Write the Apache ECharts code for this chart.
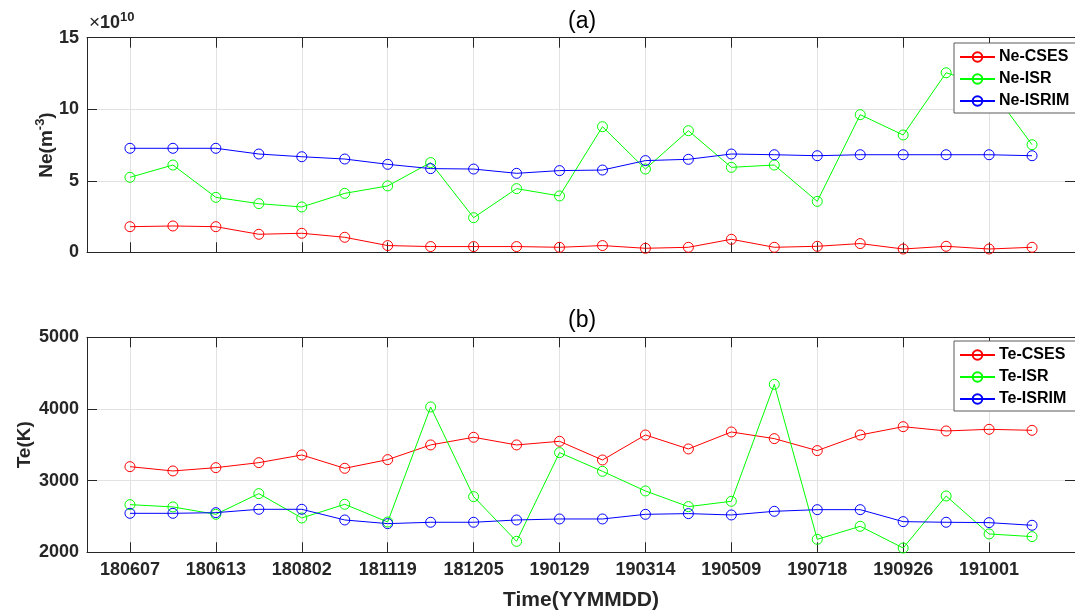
<!DOCTYPE html>
<html><head><meta charset="utf-8">
<script src="https://cdn.jsdelivr.net/npm/echarts@6/dist/echarts.min.js"></script>
<style>html,body{margin:0;padding:0;background:#fff}#c{width:1075px;height:613px}</style>
</head><body><div id="c"></div><script>
// tick labels (every second observation is labelled)
const tickLabels = ['180607','','180613','','180802','','181119','','181205','','190129','','190314','','190509','','190718','','190926','','191001',''];
// Ne in units of 1e10 m^-3
const neCSES  = [1.79,1.84,1.79,1.26,1.33,1.05,0.47,0.40,0.40,0.40,0.35,0.47,0.28,0.35,0.91,0.35,0.42,0.61,0.23,0.42,0.23,0.35];
const neISR   = [5.24,6.10,3.84,3.40,3.17,4.12,4.64,6.27,2.42,4.45,3.94,8.78,5.82,8.50,5.94,6.10,3.56,9.62,8.20,12.55,11.6,7.52];
const neISRIM = [7.27,7.27,7.27,6.87,6.68,6.52,6.15,5.85,5.82,5.52,5.71,5.75,6.41,6.50,6.87,6.82,6.75,6.82,6.82,6.82,6.82,6.75];
// Te in K
const teCSES  = [3195,3135,3181,3251,3358,3172,3293,3498,3605,3498,3549,3288,3637,3442,3679,3586,3419,3637,3753,3693,3716,3702];
const teISR   = [2665,2633,2530,2819,2479,2670,2423,4028,2777,2153,3391,3130,2856,2637,2712,4344,2181,2363,2060,2786,2256,2219];
const teISRIM = [2544,2544,2553,2600,2600,2451,2400,2419,2419,2451,2465,2465,2530,2540,2521,2572,2595,2595,2428,2419,2414,2377];

const FONT = "'Liberation Sans', Arial, Helvetica, sans-serif";
const DARK = '#262626';
const GRIDC = '#e2e2e2';
const RED = '#ff0000', GREEN = '#00ff00', BLUE = '#0000ff';

// padded categories: one empty slot on each side of the data
const cats = [''].concat(tickLabels, ['']);
const isTick = (idx) => idx >= 1 && idx <= tickLabels.length && (idx - 1) % 2 === 0 && tickLabels[idx - 1] !== '';

const gridW = 994, gridL = 87;
const grids = [
  {left: gridL, top: 37.7, width: gridW, height: 214.6},
  {left: gridL, top: 337.3, width: gridW, height: 215}
];

function xAx(gi, pos, showLabel, name) {
  return {
    type: 'category', gridIndex: gi, position: pos, data: cats, boundaryGap: false,
    axisLine: {show: true, onZero: false, lineStyle: {color: DARK, width: 1}},
    axisTick: {show: true, inside: true, length: 10, interval: (i) => isTick(i), lineStyle: {color: DARK}},
    axisLabel: {show: showLabel, interval: (i) => isTick(i), margin: 9, fontFamily: FONT, fontSize: 18, fontWeight: 'bold', color: DARK},
    splitLine: {show: pos === 'bottom', interval: (i) => isTick(i), lineStyle: {color: GRIDC, width: 1}},
    name: name || '', nameLocation: 'middle', nameGap: 37, nameMoveOverlap: false,
    nameTextStyle: {fontFamily: FONT, fontSize: 21, fontWeight: 'bold', color: DARK}
  };
}
function yAx(gi, pos, min, max, interval, name, nameGap, showLabel) {
  return {
    type: 'value', gridIndex: gi, position: pos, min: min, max: max, interval: interval,
    axisLine: {show: true, lineStyle: {color: DARK, width: 1}},
    axisTick: {show: true, inside: true, length: 10, lineStyle: {color: DARK}},
    axisLabel: {show: showLabel, margin: 8, fontFamily: FONT, fontSize: 18, fontWeight: 'bold', color: DARK,
      formatter: (v) => String(v)},
    splitLine: {show: pos === 'left', lineStyle: {color: GRIDC, width: 1}},
    name: name || '', nameLocation: 'middle', nameGap: nameGap, nameRotate: 90, nameMoveOverlap: false,
    nameTextStyle: {
      fontFamily: FONT, fontSize: 19, fontWeight: 'bold', color: DARK,
      rich: {
        a: {fontFamily: FONT, fontSize: 19, fontWeight: 'bold', color: DARK, verticalAlign: 'bottom'},
        s: {fontFamily: FONT, fontSize: 13, fontWeight: 'bold', color: DARK, verticalAlign: 'bottom', padding: [0, 0, 9, 0]}
      }
    }
  };
}
function ser(name, vals, color, xi, yi) {
  return {
    type: 'line', name: name, xAxisIndex: xi, yAxisIndex: yi,
    data: vals.map((v, i) => [i + 1, v]),
    symbol: 'circle', symbolSize: 10,
    lineStyle: {color: color, width: 1},
    itemStyle: {color: 'rgba(255,255,255,0)', borderColor: color, borderWidth: 1},
    emphasis: {disabled: true}, silent: true
  };
}
function leg(names, top) {
  return {
    data: names, orient: 'vertical', left: 954, top: top,
    itemWidth: 35, itemHeight: 12, itemGap: 6,
    padding: [6, 10, 4, 5],
    backgroundColor: '#fff', borderColor: '#5a5a5a', borderWidth: 1, borderRadius: 0,
    textStyle: {fontFamily: FONT, fontSize: 16, fontWeight: 'bold', color: '#000', padding: [0, 0, 0, -1]},
    selectedMode: false
  };
}

const chart = echarts.init(document.getElementById('c'), null, {renderer: 'canvas'});
chart.setOption({
  animation: false,
  backgroundColor: '#fff',
  grid: grids,
  xAxis: [xAx(0, 'bottom', false), xAx(0, 'top', false), xAx(1, 'bottom', true, 'Time(YYMMDD)'), xAx(1, 'top', false)],
  yAxis: [
    yAx(0, 'left', 0, 15, 5, '{a|Ne(m}{s|-3}{a|)}', 31, true),
    yAx(0, 'right', 0, 15, 5, '', 0, false),
    yAx(1, 'left', 2000, 5000, 1000, 'Te(K)', 53, true),
    yAx(1, 'right', 2000, 5000, 1000, '', 0, false)
  ],
  legend: [leg(['Ne-CSES', 'Ne-ISR', 'Ne-ISRIM'], 43), leg(['Te-CSES', 'Te-ISR', 'Te-ISRIM'], 341)],
  series: [
    ser('Ne-CSES', neCSES, RED, 0, 0),
    ser('Ne-ISR', neISR, GREEN, 0, 0),
    ser('Ne-ISRIM', neISRIM, BLUE, 0, 0),
    ser('Te-CSES', teCSES, RED, 2, 2),
    ser('Te-ISR', teISR, GREEN, 2, 2),
    ser('Te-ISRIM', teISRIM, BLUE, 2, 2)
  ],
  graphic: [
    {type: 'text', left: 583 - 15, top: 10, style: {text: '(a)', font: "23px " + FONT, fill: '#000'}},
    {type: 'text', left: 583 - 15, top: 309, style: {text: '(b)', font: "23px " + FONT, fill: '#000'}},
    {type: 'text', left: 89, top: 11, style: {
      text: '{x|×}{a|10}{s|10}',
      rich: {
        x: {fontFamily: FONT, fontSize: 19, fill: DARK, verticalAlign: 'bottom'},
        a: {fontFamily: FONT, fontSize: 18, fontWeight: 'bold', fill: DARK, verticalAlign: 'bottom'},
        s: {fontFamily: FONT, fontSize: 13, fontWeight: 'bold', fill: DARK, verticalAlign: 'bottom', padding: [0, 0, 8, 0]}
      }
    }}
  ]
});
</script></body></html>
